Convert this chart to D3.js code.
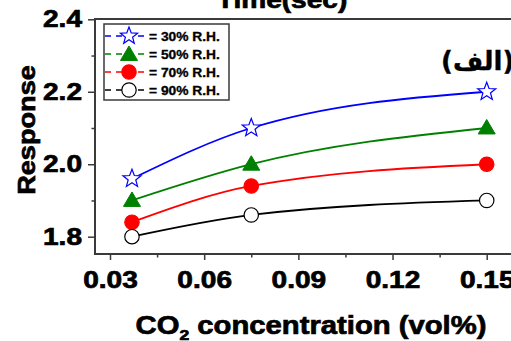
<!DOCTYPE html>
<html>
<head>
<meta charset="utf-8">
<script src="https://cdn.jsdelivr.net/npm/d3@7"></script>
<style>
  html, body { margin: 0; padding: 0; background: #fff; }
  svg { display: block; font-family: Arial, 'Liberation Sans', sans-serif; }
</style>
</head>
<body>
<svg id="chart"></svg>
<script>
const concentrations = [0.037, 0.075, 0.15]
const rh30 = [1.96, 2.10, 2.20]
const rh50 = [1.90, 2.00, 2.10]
const rh70 = [1.84, 1.94, 2.00]
const rh90 = [1.80, 1.86, 1.90]
const legendLabels = ['= 30% R.H.', '= 50% R.H.', '= 70% R.H.', '= 90% R.H.']
const xTicks = [0.03, 0.06, 0.09, 0.12, 0.15]
const xMinor = [0.045, 0.075, 0.105, 0.135]
const yTicks = [1.8, 2.0, 2.2, 2.4]
const yMinor = [1.9, 2.1, 2.3]

const w = 511
const h = 341
const stretch = 1.17

const svg = d3.select('#chart').attr('width', w).attr('height', h)

const x = d3.scaleLinear().domain([0.03, 0.15]).range([110, 486.7])
const y = d3.scaleLinear().domain([1.8, 2.4]).range([236.7, 19.3])

const frame = { left: 95, top: 19, right: 540, bottom: 254 }

// star path, point up
function starPath(r) {
  const pts = []
  for (let i = 0; i < 10; i++) {
    const rad = i % 2 === 0 ? r : r * 0.42
    const a = -Math.PI / 2 + (i * Math.PI) / 5
    pts.push([rad * Math.cos(a), rad * Math.sin(a)])
  }
  return 'M' + pts.map((p) => p.join(',')).join('L') + 'Z'
}
function trianglePath(s) {
  return `M0,${-s}L${s},${s * 0.7}L${-s},${s * 0.7}Z`
}

const series = [
  { values: rh30, color: '#0000ff', shape: 'star', fill: '#fff' },
  { values: rh50, color: '#008000', shape: 'tri', fill: '#008000' },
  { values: rh70, color: '#ff0000', shape: 'circle', fill: '#ff0000' },
  { values: rh90, color: '#000000', shape: 'circle', fill: '#fff' },
]

function drawMarker(g, s, cx, cy) {
  if (s.shape === 'star') {
    g.append('path').attr('d', starPath(9.5)).attr('transform', `translate(${cx},${cy})`)
      .attr('fill', s.fill).attr('stroke', s.color).attr('stroke-width', 1.2)
  } else if (s.shape === 'tri') {
    g.append('path').attr('d', trianglePath(8.5)).attr('transform', `translate(${cx},${cy})`)
      .attr('fill', s.fill).attr('stroke', s.color).attr('stroke-width', 1)
  } else {
    g.append('circle').attr('cx', cx).attr('cy', cy).attr('r', 7.2)
      .attr('fill', s.fill).attr('stroke', s.color).attr('stroke-width', 1.2)
  }
}

// heavier bold look, like the reference
function heavy(sel, sw) {
  return sel.attr('font-weight', 'bold').attr('fill', '#000')
    .attr('stroke', '#000').attr('stroke-width', sw).attr('paint-order', 'stroke')
}

// frame
svg.append('rect')
  .attr('x', frame.left).attr('y', frame.top)
  .attr('width', frame.right - frame.left).attr('height', frame.bottom - frame.top)
  .attr('fill', 'none').attr('stroke', '#3a3a3a').attr('stroke-width', 2)

// axes
const xAxis = svg.append('g')
  .attr('transform', `translate(0,${frame.bottom})`)
  .call(d3.axisBottom(x).tickValues(xTicks).tickSize(6).tickFormat(d3.format('.2f')))
xAxis.select('.domain').remove()
xAxis.selectAll('line').attr('stroke', '#3a3a3a').attr('stroke-width', 1.5)
heavy(xAxis.selectAll('text'), 0.7)
  .attr('y', 0).attr('dy', 0)
  .attr('transform', `translate(0,34) scale(${stretch},1)`)
  .attr('font-size', 24)

const xAxisMinor = svg.append('g')
  .attr('transform', `translate(0,${frame.bottom})`)
  .call(d3.axisBottom(x).tickValues(xMinor).tickSize(3.5).tickFormat(''))
xAxisMinor.select('.domain').remove()
xAxisMinor.selectAll('line').attr('stroke', '#3a3a3a').attr('stroke-width', 1.5)

const yAxis = svg.append('g')
  .attr('transform', `translate(${frame.left},0)`)
  .call(d3.axisLeft(y).tickValues(yTicks).tickSize(7).tickFormat(d3.format('.1f')))
yAxis.select('.domain').remove()
yAxis.selectAll('line').attr('stroke', '#3a3a3a').attr('stroke-width', 1.5)
heavy(yAxis.selectAll('text'), 0.7)
  .attr('x', -13 / stretch)
  .attr('transform', `scale(${stretch},1)`)
  .attr('font-size', 24)

const yAxisMinor = svg.append('g')
  .attr('transform', `translate(${frame.left},0)`)
  .call(d3.axisLeft(y).tickValues(yMinor).tickSize(3.5).tickFormat(''))
yAxisMinor.select('.domain').remove()
yAxisMinor.selectAll('line').attr('stroke', '#3a3a3a').attr('stroke-width', 1.5)

// curves and markers
const line = d3.line()
  .x((d, i) => x(concentrations[i]))
  .y((d) => y(d))
  .curve(d3.curveMonotoneX)

series.forEach((s) => {
  svg.append('path')
    .attr('d', line(s.values))
    .attr('fill', 'none')
    .attr('stroke', s.color)
    .attr('stroke-width', 1.8)
})
series.forEach((s) => {
  const g = svg.append('g')
  s.values.forEach((v, i) => drawMarker(g, s, x(concentrations[i]), y(v)))
})

// legend
const legend = svg.append('g').attr('id', 'legend')
legend.append('rect')
  .attr('x', 104).attr('y', 24).attr('width', 125).attr('height', 76)
  .attr('fill', '#fff').attr('stroke', '#3a3a3a').attr('stroke-width', 1.5)

const rowY = [36, 54, 72, 90]
series.forEach((s, i) => {
  const ly = rowY[i]
  legend.append('line')
    .attr('x1', 105).attr('x2', 148).attr('y1', ly).attr('y2', ly)
    .attr('stroke', s.color).attr('stroke-width', 1.6)
    .attr('stroke-dasharray', '6,5')
  const mg = legend.append('g')
  if (s.shape === 'star') {
    mg.append('path').attr('d', starPath(9)).attr('transform', `translate(129,${ly})`)
      .attr('fill', '#fff').attr('stroke', s.color).attr('stroke-width', 1.2)
  } else {
    drawMarker(mg, s, 129, ly + (s.shape === 'tri' ? 0.5 : 0))
  }
  heavy(legend.append('text'), 0.3)
    .attr('transform', `translate(149,${ly + 4.5}) scale(1.15,1)`)
    .attr('font-size', 12)
    .text(legendLabels[i])
})

// titles
heavy(svg.append('text'), 0.7)
  .attr('transform', `translate(282,8) scale(${stretch},1)`)
  .attr('text-anchor', 'middle')
  .attr('font-size', 24)
  .text('Time(sec)')

heavy(svg.append('text'), 0.7)
  .attr('transform', `translate(35,130) rotate(-90) scale(1.18,1)`)
  .attr('text-anchor', 'middle')
  .attr('font-size', 23)
  .text('Response')

const xl = heavy(svg.append('text'), 0.7)
  .attr('transform', `translate(311,334) scale(${stretch},1)`)
  .attr('text-anchor', 'middle')
  .attr('font-size', 25)
xl.append('tspan').text('CO')
xl.append('tspan').attr('font-size', 15).attr('dy', 6).text('2')
xl.append('tspan').attr('dy', -6).text(' concentration (vol%)')

heavy(svg.append('text'), 0.4)
  .attr('x', 441).attr('y', 70)
  .attr('font-family', "'DejaVu Sans', sans-serif")
  .attr('font-size', 26)
  .text('(الف)')
</script>
</body>
</html>
